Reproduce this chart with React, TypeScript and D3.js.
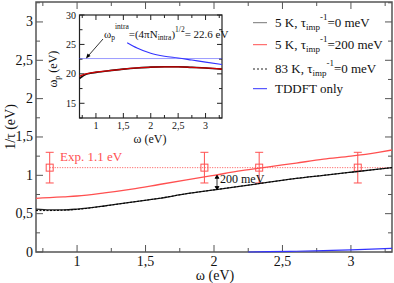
import * as d3 from 'd3';

// main panel: 1/tau vs omega
const omega = [0.7, 0.8, 0.9, 1.0, 1.2, 1.4, 1.6, 1.8, 2.0, 2.2, 2.4, 2.6, 2.8, 3.0, 3.2, 3.3];
const tau5K = [0.56, 0.55, 0.55, 0.56, 0.6, 0.65, 0.7, 0.76, 0.81, 0.86, 0.91, 0.96, 1.0, 1.04, 1.08, 1.1];
const tau5KImp = [0.7, 0.71, 0.72, 0.73, 0.77, 0.82, 0.88, 0.94, 1.0, 1.06, 1.11, 1.16, 1.21, 1.25, 1.3, 1.33];
const tau83K = [0.54, 0.54, 0.545, 0.555, 0.6, 0.65, 0.7, 0.76, 0.81, 0.86, 0.91, 0.96, 1.0, 1.04, 1.08, 1.1];
const tddftOmega = [2.25, 2.4, 2.6, 2.8, 3.0, 3.2, 3.3];
const tddft = [0.0, 0.004, 0.01, 0.018, 0.028, 0.04, 0.047];

const expOmega = [0.8, 1.93, 2.33, 3.05];
const expValue = 1.1;
const expErr = 0.2;

const xTicks = [1, 1.5, 2, 2.5, 3];
const yTicks = [0, 0.5, 1, 1.5, 2, 2.5, 3];

// inset: plasma frequency
const insetOmega = [0.7, 0.75, 0.8, 0.9, 1.0, 1.25, 1.5, 1.75, 2.0, 2.25, 2.5, 2.75, 3.0, 3.3];
const insetRed = [19.6, 19.8, 19.95, 20.15, 20.3, 20.55, 20.8, 21.0, 21.15, 21.2, 21.2, 21.1, 21.0, 20.8];
const insetBlack = [19.2, 19.55, 19.85, 20.1, 20.25, 20.55, 20.8, 21.0, 21.15, 21.2, 21.2, 21.1, 21.0, 20.8];
const insetBlueOmega = [1.57, 1.75, 2.0, 2.25, 2.5, 2.75, 3.0, 3.3];
const insetBlue = [25.3, 24.4, 23.5, 23.0, 22.7, 22.35, 22.0, 21.6];
const wpIntra = 22.6;
const insetXTicks = [1, 1.5, 2, 2.5, 3];
const insetYTicks = [15, 20, 25, 30];

const fmt = (v: number) => String(v).replace('.', ',');
const RED = '#ff5050';
const BLUE = '#3333ff';
const tx = { fontFamily: 'Liberation Serif', fill: '#111' };

export default function App() {
  const x = d3.scaleLinear().domain([0.7, 3.3]).range([36, 392]);
  const y = d3.scaleLinear().domain([0, 3.26]).range([252, 2]);
  const ix = d3.scaleLinear().domain([0.7, 3.3]).range([79.5, 222]);
  const iy = d3.scaleLinear().domain([12.5, 30]).range([118, 15]);

  const line = (xs: number[], ys: number[], sx: any, sy: any) =>
    d3.line<number>().x((_, i) => sx(xs[i])).y((d) => sy(d)).curve(d3.curveMonotoneX)(ys) || '';

  const xMinor = d3.range(0.75, 3.3, 0.5);
  const yMinor = d3.range(0.25, 3.26, 0.5);
  const ixMinor = d3.range(0.75, 3.3, 0.5);
  const iyMinor = d3.range(12.5, 30, 5);

  const axisColor = '#555';
  const [x0, x1] = x.range();
  const [y0, y1] = y.range();
  const [ix0, ix1] = ix.range();
  const [iy0, iy1] = iy.range();

  const legend = [
    { t: '5 K', v: '=0 meV', color: '#777', dash: '' },
    { t: '5 K', v: '=200 meV', color: RED, dash: '' },
    { t: '83 K', v: '=0 meV', color: '#222', dash: '2,2' },
  ];
  const legendY = [22.7, 44.7, 69];

  return (
    <svg width={394} height={283} style={{ position: 'absolute', left: 0, top: 0, background: '#fff' }}>
      {/* main frame ticks */}
      <g stroke={axisColor} strokeWidth={1}>
        {xTicks.map((t) => (
          <g key={'xt' + t}>
            <line x1={x(t)} x2={x(t)} y1={y0} y2={y0 - 7} />
            <line x1={x(t)} x2={x(t)} y1={y1} y2={y1 + 7} />
          </g>
        ))}
        {xMinor.map((t) => (
          <g key={'xm' + t}>
            <line x1={x(t)} x2={x(t)} y1={y0} y2={y0 - 4} />
            <line x1={x(t)} x2={x(t)} y1={y1} y2={y1 + 4} />
          </g>
        ))}
        {yTicks.map((t) => (
          <g key={'yt' + t}>
            <line x1={x0} x2={x0 + 7} y1={y(t)} y2={y(t)} />
            <line x1={x1} x2={x1 - 7} y1={y(t)} y2={y(t)} />
          </g>
        ))}
        {yMinor.map((t) => (
          <g key={'ym' + t}>
            <line x1={x0} x2={x0 + 4} y1={y(t)} y2={y(t)} />
            <line x1={x1} x2={x1 - 4} y1={y(t)} y2={y(t)} />
          </g>
        ))}
      </g>
      <rect x={x0} y={y1} width={x1 - x0} height={y0 - y1} fill="none" stroke={axisColor} strokeWidth={1.5} />

      {/* tick labels */}
      {xTicks.map((t) => (
        <text key={'xl' + t} {...tx} fontSize={14} x={x(t)} y={266} textAnchor="middle">{fmt(t)}</text>
      ))}
      {yTicks.map((t) => (
        <text key={'yl' + t} {...tx} fontSize={14} x={33} y={y(t) + 4.5} textAnchor="end">{fmt(t)}</text>
      ))}
      <text {...tx} x={215} y={280} fontSize={14} textAnchor="middle">ω (eV)</text>
      <text {...tx} transform={`translate(15,${y(1.63)}) rotate(-90)`} fontSize={14} textAnchor="middle">1/τ (eV)</text>

      {/* experiment */}
      <line x1={x(0.8)} x2={x1} y1={y(expValue)} y2={y(expValue)} stroke={RED} strokeWidth={1} strokeDasharray="1,1.5" />
      {expOmega.map((w) => (
        <g key={'e' + w} stroke={RED} fill="none" strokeWidth={1}>
          <line x1={x(w)} x2={x(w)} y1={y(expValue - expErr)} y2={y(expValue + expErr)} />
          <line x1={x(w) - 4} x2={x(w) + 4} y1={y(expValue - expErr)} y2={y(expValue - expErr)} />
          <line x1={x(w) - 4} x2={x(w) + 4} y1={y(expValue + expErr)} y2={y(expValue + expErr)} />
          <rect x={x(w) - 3.5} y={y(expValue) - 3.5} width={7} height={7} />
        </g>
      ))}
      <text {...tx} x={60} y={161} fontSize={13} fill={RED}>Exp. 1.1 eV</text>

      {/* main curves */}
      <path d={line(omega, tau5KImp, x, y)} fill="none" stroke={RED} strokeWidth={1.3} />
      <path d={line(omega, tau5K, x, y)} fill="none" stroke="#222" strokeWidth={1.3} />
      <path d={line(omega, tau83K, x, y)} fill="none" stroke="#000" strokeWidth={1} strokeDasharray="2,1.5" />
      <path d={line(tddftOmega, tddft, x, y)} fill="none" stroke={BLUE} strokeWidth={1.2} />

      {/* 200 meV marker */}
      <g stroke="#000" strokeWidth={0.8} fill="#000">
        <line x1={217} x2={217} y1={y(0.815)} y2={y(1.0)} />
        <path d={`M${217},${y(1.0)} l-2,3 h4 z`} />
        <path d={`M${217},${y(0.815)} l-2,-3 h4 z`} />
      </g>
      <text {...tx} x={220} y={183} fontSize={12}>200 meV</text>

      {/* legend */}
      {legend.map((l, i) => (
        <g key={'lg' + i}>
          <line x1={253} x2={267} y1={legendY[i]} y2={legendY[i]} stroke={l.color} strokeWidth={1} strokeDasharray={l.dash} />
          <text {...tx} x={275} y={legendY[i] + 4} fontSize={13}>
            {l.t}, τ
            <tspan fontSize={9} dy={3}>imp</tspan>
            <tspan fontSize={9} dy={-10}>-1</tspan>
            <tspan dy={7}>{l.v}</tspan>
          </text>
        </g>
      ))}
      <line x1={253} x2={267} y1={88.7} y2={88.7} stroke={BLUE} strokeWidth={1} />
      <text {...tx} x={275} y={93} fontSize={13}>TDDFT only</text>

      {/* inset */}
      <g stroke="#222" strokeWidth={1}>
        {insetXTicks.map((t) => (
          <g key={'ixt' + t}>
            <line x1={ix(t)} x2={ix(t)} y1={iy0} y2={iy0 - 5} />
            <line x1={ix(t)} x2={ix(t)} y1={iy1} y2={iy1 + 5} />
          </g>
        ))}
        {ixMinor.map((t) => (
          <g key={'ixm' + t}>
            <line x1={ix(t)} x2={ix(t)} y1={iy0} y2={iy0 - 3} />
            <line x1={ix(t)} x2={ix(t)} y1={iy1} y2={iy1 + 3} />
          </g>
        ))}
        {insetYTicks.map((t) => (
          <g key={'iyt' + t}>
            <line x1={ix0} x2={ix0 + 5} y1={iy(t)} y2={iy(t)} />
            <line x1={ix1} x2={ix1 - 5} y1={iy(t)} y2={iy(t)} />
          </g>
        ))}
        {iyMinor.map((t) => (
          <g key={'iym' + t}>
            <line x1={ix0} x2={ix0 + 3} y1={iy(t)} y2={iy(t)} />
            <line x1={ix1} x2={ix1 - 3} y1={iy(t)} y2={iy(t)} />
          </g>
        ))}
      </g>
      <rect x={ix0} y={iy1} width={ix1 - ix0} height={iy0 - iy1} fill="none" stroke="#222" strokeWidth={1.2} />
      {insetXTicks.map((t) => (
        <text key={'ixl' + t} {...tx} fontSize={10} x={ix(t)} y={129} textAnchor="middle">{fmt(t)}</text>
      ))}
      {insetYTicks.map((t) => (
        <text key={'iyl' + t} {...tx} fontSize={10} x={76} y={iy(t) + 3.5} textAnchor="end">{fmt(t)}</text>
      ))}
      <text {...tx} x={150} y={143} fontSize={12} textAnchor="middle">ω (eV)</text>
      <text {...tx} transform={`translate(57,${iy(20.8)}) rotate(-90)`} fontSize={12} textAnchor="middle">
        ω<tspan fontSize={8} dy={3}>p</tspan>
        <tspan dy={-3}> (eV)</tspan>
      </text>

      <line x1={ix0} x2={ix1} y1={iy(wpIntra)} y2={iy(wpIntra)} stroke={BLUE} strokeWidth={1} strokeDasharray="1,1" />
      <path d={line(insetBlueOmega, insetBlue, ix, iy)} fill="none" stroke={BLUE} strokeWidth={1.1} />
      <path d={line(insetOmega, insetBlack, ix, iy)} fill="none" stroke="#111" strokeWidth={1.6} />
      <path d={line(insetOmega, insetRed, ix, iy)} fill="none" stroke="#d00000" strokeWidth={1.3} />

      {/* arrow annotation */}
      <line x1={103} x2={89} y1={39} y2={55} stroke="#000" strokeWidth={0.8} />
      <path d="M86,58.5 l1.5,-5 l3,2.6 z" fill="#000" />
      <text {...tx} x={104} y={38} fontSize={11}>
        ω<tspan fontSize={7.5} dy={2}>p</tspan>
        <tspan fontSize={7.5} dy={-11}>intra</tspan>
        <tspan dy={9}>=(4πN</tspan>
        <tspan fontSize={7.5} dy={2}>intra</tspan>
        <tspan dy={-2}>)</tspan>
        <tspan fontSize={7.5} dy={-6}>1/2</tspan>
        <tspan dy={6}>= 22.6 eV</tspan>
      </text>
    </svg>
  );
}
